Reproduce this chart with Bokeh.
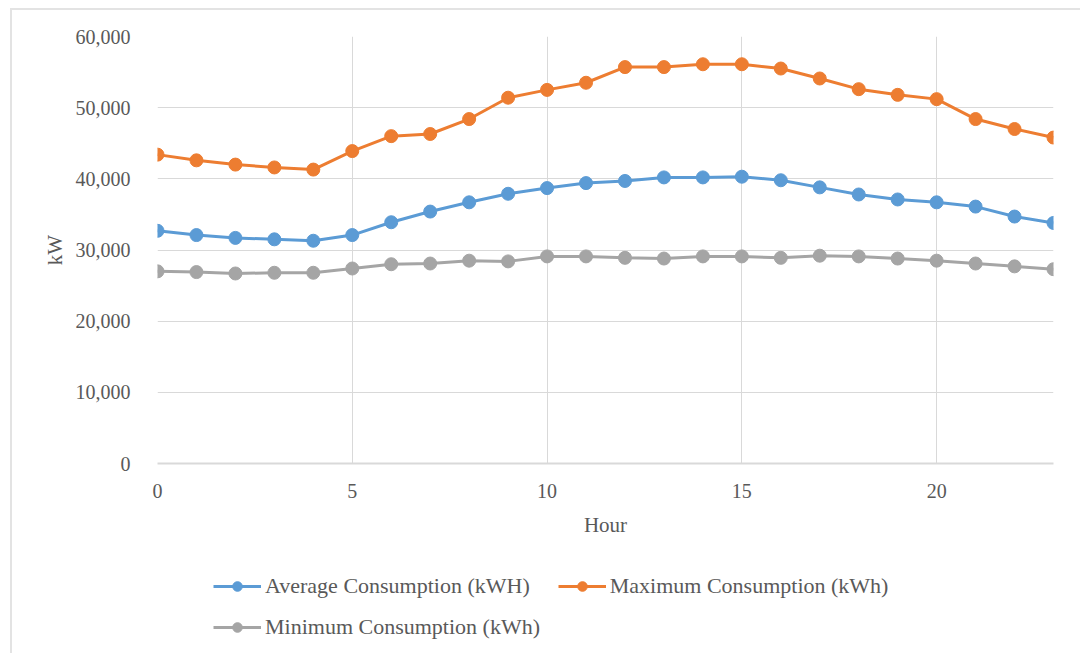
from bokeh.plotting import figure
from bokeh.layouts import column
from bokeh.models import (Range1d, FixedTicker, NumeralTickFormatter, Legend, LegendItem)
from bokeh.embed import file_html
from bokeh.resources import INLINE

# Hourly consumption profile
hours = list(range(24))
avg_consumption = [32700, 32100, 31700, 31500, 31300, 32100, 33900, 35400, 36700, 37900, 38700, 39400,
                   39700, 40200, 40200, 40300, 39800, 38800, 37800, 37100, 36700, 36100, 34700, 33800]
max_consumption = [43400, 42600, 42000, 41600, 41300, 43900, 46000, 46300, 48400, 51400, 52500, 53500,
                   55700, 55700, 56100, 56100, 55500, 54100, 52600, 51800, 51200, 48400, 47000, 45800]
min_consumption = [27000, 26900, 26700, 26800, 26800, 27400, 28000, 28100, 28500, 28400, 29100, 29100,
                   28900, 28800, 29100, 29100, 28900, 29200, 29100, 28800, 28500, 28100, 27700, 27300]

x_ticks = [0, 5, 10, 15, 20]
y_ticks = [0, 10000, 20000, 30000, 40000, 50000, 60000]

series = [
    ("Average Consumption (kWH)", avg_consumption, "#5B9BD5"),
    ("Maximum Consumption (kWh)", max_consumption, "#ED7D31"),
    ("Minimum Consumption (kWh)", min_consumption, "#A5A5A5"),
]

FONT = "Liberation Serif"
TEXT = "#595959"
GRID = "#d9d9d9"
W = 1068

p = figure(width=W, height=545, output_backend="svg", toolbar_location=None,
           x_range=Range1d(0, 23), y_range=Range1d(0, 60000),
           min_border_left=145, min_border_right=27, min_border_top=26, min_border_bottom=92)
p.outline_line_color = None
p.background_fill_color = "white"
p.border_fill_color = "white"

p.xaxis.ticker = FixedTicker(ticks=x_ticks)
p.yaxis.ticker = FixedTicker(ticks=y_ticks)
p.yaxis.formatter = NumeralTickFormatter(format="0,0")

for ax in (p.xaxis[0], p.yaxis[0]):
    ax.major_tick_line_color = None
    ax.minor_tick_line_color = None
    ax.major_label_text_font = FONT
    ax.major_label_text_font_size = "20px"
    ax.major_label_text_color = TEXT
    ax.axis_label_text_font = FONT
    ax.axis_label_text_font_size = "21px"
    ax.axis_label_text_font_style = "normal"
    ax.axis_label_text_color = TEXT

p.yaxis.axis_line_color = None
p.xaxis.axis_line_color = GRID
p.xaxis.axis_line_width = 2
p.xaxis.axis_label = "Hour"
p.yaxis.axis_label = "kW"
p.xaxis.major_label_standoff = 14
p.yaxis.major_label_standoff = 21
p.xaxis.axis_label_standoff = 12
p.yaxis.axis_label_standoff = 6

p.xgrid.ticker = FixedTicker(ticks=x_ticks)
p.ygrid.ticker = FixedTicker(ticks=y_ticks)
p.xgrid.grid_line_color = GRID
p.ygrid.grid_line_color = GRID

for name, vals, color in series:
    p.line(hours, vals, line_color=color, line_width=3)
    p.scatter(hours, vals, size=13, fill_color=color, line_color=color)

# Legend strip underneath the chart; its key renderers share the series styles
# but sit outside this strip's visible range, so only the legend swatches show.
key = figure(width=W, height=98, output_backend="svg", toolbar_location=None,
             x_range=Range1d(100, 101), y_range=Range1d(0, 1),
             x_axis_location=None, y_axis_location=None, min_border=0)
key.outline_line_color = None
key.xgrid.visible = False
key.ygrid.visible = False

items = []
for name, vals, color in series:
    ln = key.line(hours, vals, line_color=color, line_width=3)
    sc = key.scatter(hours, vals, size=11, fill_color=color, line_color=color)
    items.append(LegendItem(label=name, renderers=[ln, sc]))

def make_legend(its, loc):
    return Legend(items=its, location=loc, orientation="horizontal",
                  padding=0, margin=0, spacing=28, label_standoff=4,
                  glyph_width=48, glyph_height=24, label_height=24,
                  label_text_font=FONT, label_text_font_size="22px", label_text_color=TEXT,
                  border_line_color=None, background_fill_alpha=0)

key.add_layout(make_legend(items[:2], (56, 54)))
key.add_layout(make_legend(items[2:], (56, 13)))

page = column(p, key, spacing=0,
              styles={"margin-left": "10px", "margin-top": "8px",
                      "border-left": "2px solid #e3e3e3", "border-top": "2px solid #e3e3e3"})

open("out.html", "w").write(file_html(page, INLINE))
